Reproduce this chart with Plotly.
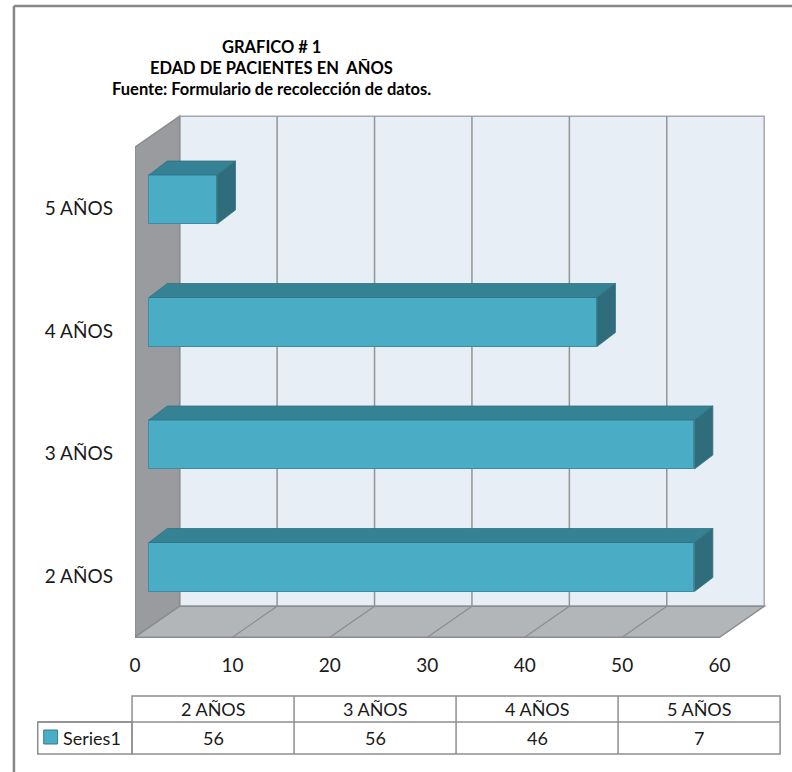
import plotly.graph_objects as go

# ---- data -------------------------------------------------------------
categorias = ["2 AÑOS", "3 AÑOS", "4 AÑOS", "5 AÑOS"]
pacientes = [56, 56, 46, 7]
serie = "Series1"
ticks_x = [0, 10, 20, 30, 40, 50, 60]
titulo = ["GRAFICO # 1", "EDAD DE PACIENTES EN  AÑOS",
          "Fuente: Formulario de recolección de datos."]

# ---- geometry (pixels) ------------------------------------------------
W, H = 792, 772
PX0, PX1 = 130, 770          # plot area, left/right
PY0, PY1 = 108, 640          # plot area, top/bottom
X_MAX = ticks_x[-1]
SX = (719 - 130) / X_MAX     # px per unit of value on the front plane
SY = 122.5                   # px per category step
Y0_PX = 576                  # pixel row of the first category on the front plane

FONT = "Lato"
TXT = "#1a1a1a"


def ox(px):
    return px / SX


def oy(px):
    return px / SY


# depth of the box (walls/floor) and of the bars, as screen offsets
DX, DY = ox(45), oy(31)
BX, BY = ox(14), oy(9)       # front face of the bars
BDX, BDY = ox(18.5), oy(14)  # bar thickness in depth
HALF = 0.2                   # half bar height (category units)

n = len(categorias)
YB, YT = -0.5, n - 0.5


def path(pts):
    return "M " + " L ".join(f"{x},{y}" for x, y in pts) + " Z"


shapes = []
# back wall
shapes.append(dict(type="path", xref="x", yref="y", layer="below",
                   path=path([(DX, YB + DY), (X_MAX + DX, YB + DY),
                              (X_MAX + DX, YT + DY), (DX, YT + DY)]),
                   fillcolor="#E8EEF5", line=dict(color="#A6A8AB", width=1.5)))
# left wall
shapes.append(dict(type="path", xref="x", yref="y", layer="below",
                   path=path([(0, YB), (DX, YB + DY), (DX, YT + DY), (0, YT)]),
                   fillcolor="#9A9B9F", line=dict(color="#8A8B8E", width=1.5)))
# floor
shapes.append(dict(type="path", xref="x", yref="y", layer="below",
                   path=path([(0, YB), (X_MAX, YB), (X_MAX + DX, YB + DY), (DX, YB + DY)]),
                   fillcolor="#B3B6B9", line=dict(color="#8A8B8E", width=1.5)))
# gridlines on wall and floor
for v in ticks_x[1:-1]:
    shapes.append(dict(type="line", xref="x", yref="y", layer="below",
                       x0=v + DX, y0=YB + DY, x1=v + DX, y1=YT + DY,
                       line=dict(color="#949494", width=1.5)))
    shapes.append(dict(type="line", xref="x", yref="y", layer="below",
                       x0=v, y0=YB, x1=v + DX, y1=YB + DY,
                       line=dict(color="#8C8C8C", width=1.2)))

fig = go.Figure()

# front faces of the bars, lifted to the front plane of the bars
fig.add_trace(go.Bar(
    y=list(range(n)), x=pacientes, base=[BX] * n, orientation="h",
    width=2 * HALF, offset=-HALF + BY,
    marker=dict(color="#4BACC6", line=dict(color="#3A8DA3", width=1)),
    hoverinfo="skip", showlegend=False))

# top and side faces
for i, v in enumerate(pacientes):
    yc = i + BY
    yt, yb = yc + HALF, yc - HALF
    xr = BX + v
    top = [(BX, yt), (xr, yt), (xr + BDX, yt + BDY), (BX + BDX, yt + BDY), (BX, yt)]
    side = [(xr, yb), (xr + BDX, yb + BDY), (xr + BDX, yt + BDY), (xr, yt), (xr, yb)]
    for pts, col in ((top, "#368295"), (side, "#2F6D7C")):
        fig.add_trace(go.Scatter(
            x=[p[0] for p in pts], y=[p[1] for p in pts], mode="lines",
            fill="toself", fillcolor=col, line=dict(color="#2F7283", width=0.8),
            hoverinfo="skip", showlegend=False))


# ---- data table below the chart (paper coords) ------------------------
def px_(x):
    return x / W


def py_(y):
    return 1 - y / H


TL, TC0 = 32, 127
col_w = (780 - TC0) / n
R0, R1, R2 = 696, 722, 754
GRID = dict(color="#8E8E8E", width=1.5)
shapes.append(dict(type="rect", xref="paper", yref="paper",
                   x0=px_(TC0), x1=px_(780), y0=py_(R2), y1=py_(R0), line=GRID))
shapes.append(dict(type="rect", xref="paper", yref="paper",
                   x0=px_(TL), x1=px_(TC0), y0=py_(R2), y1=py_(R1), line=GRID))
shapes.append(dict(type="line", xref="paper", yref="paper",
                   x0=px_(TL), x1=px_(780), y0=py_(R1), y1=py_(R1), line=GRID))
for k in range(1, n):
    xk = TC0 + k * col_w
    shapes.append(dict(type="line", xref="paper", yref="paper",
                       x0=px_(xk), x1=px_(xk), y0=py_(R2), y1=py_(R0), line=GRID))
# legend key
shapes.append(dict(type="rect", xref="paper", yref="paper",
                   x0=px_(38), x1=px_(52), y0=py_(744), y1=py_(730),
                   fillcolor="#4BACC6", line=dict(color="#357D91", width=1)))
# chart frame
FRAME = dict(color="#878787", width=2.5)
shapes.append(dict(type="line", xref="paper", yref="paper",
                   x0=px_(8), x1=px_(8), y0=py_(6), y1=-0.02, line=FRAME))
shapes.append(dict(type="line", xref="paper", yref="paper",
                   x0=px_(8), x1=1.02, y0=py_(6), y1=py_(6), line=FRAME))

annotations = []
TFONT = dict(family=FONT, size=18, color=TXT)
for k, (c, v) in enumerate(zip(categorias, pacientes)):
    xc = TC0 + (k + 0.5) * col_w
    annotations.append(dict(xref="paper", yref="paper", x=px_(xc), y=py_((R0 + R1) / 2),
                            text=c, showarrow=False, xanchor="center", yanchor="middle",
                            font=TFONT))
    annotations.append(dict(xref="paper", yref="paper", x=px_(xc), y=py_((R1 + R2) / 2),
                            text=str(v), showarrow=False, xanchor="center", yanchor="middle",
                            font=TFONT))
annotations.append(dict(xref="paper", yref="paper", x=px_(55), y=py_((R1 + R2) / 2),
                        text=serie, showarrow=False, xanchor="left", yanchor="middle",
                        font=TFONT))

# title lines (keep the double space visible)
for k, line in enumerate(titulo):
    annotations.append(dict(xref="paper", yref="paper", x=px_(268), y=py_(47 + 21 * k),
                            text="<b>" + line.replace("  ", " \u00a0") + "</b>",
                            showarrow=False, xanchor="center", yanchor="middle",
                            font=dict(family=FONT, size=16.5, color="#000000")))

fig.update_layout(
    width=W, height=H, margin=dict(l=0, r=0, t=0, b=0),
    paper_bgcolor="white", plot_bgcolor="rgba(0,0,0,0)",
    shapes=shapes, annotations=annotations, bargap=0,
    xaxis=dict(domain=[PX0 / W, PX1 / W], range=[0, (PX1 - PX0) / SX],
               tickvals=ticks_x, showgrid=False, zeroline=False, showline=False,
               ticks="", ticklabelstandoff=12,
               tickfont=dict(family=FONT, size=19, color=TXT), fixedrange=True),
    yaxis=dict(domain=[1 - PY1 / H, 1 - PY0 / H],
               range=[(Y0_PX - PY1) / SY, (Y0_PX - PY0) / SY],
               tickvals=list(range(n)), ticktext=categorias,
               showgrid=False, zeroline=False, showline=False, ticks="",
               ticklabelstandoff=21,
               tickfont=dict(family=FONT, size=19, color=TXT), fixedrange=True),
)

fig.write_html("out.html")
